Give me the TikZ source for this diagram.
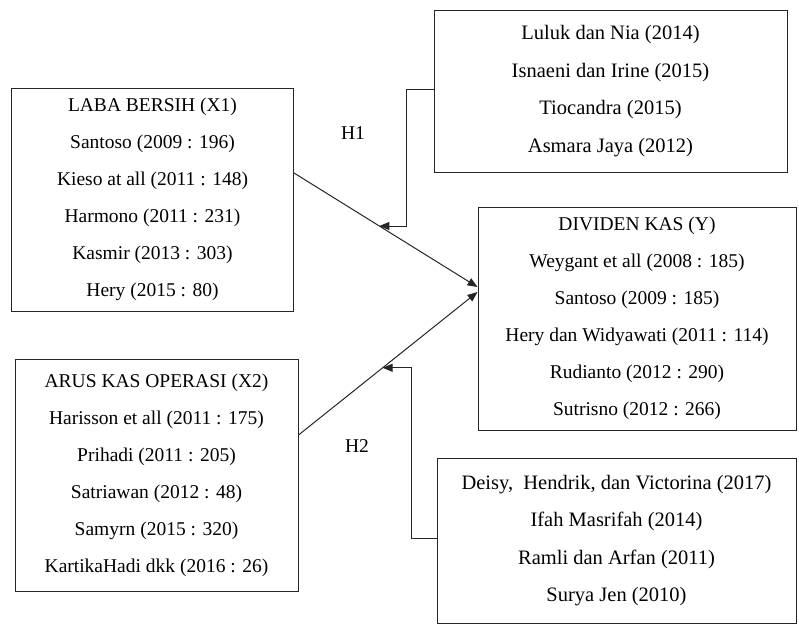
\documentclass[tikz,border=0pt]{standalone}
\usepackage{fontspec}
\setmainfont{Liberation Serif}
\usetikzlibrary{arrows.meta,calc,positioning}

\begin{document}
\begin{tikzpicture}[x=1pt,y=-1pt,>={Triangle[length=10pt,width=8pt]},
    line width=1pt,draw=black!85,
    box/.style={draw=black!85,line width=1pt,align=center,inner sep=0pt,
      font=\fontsize{19.5}{37}\selectfont},
    refbox/.style={box,font=\fontsize{20.5}{37.5}\selectfont}]
    \useasboundingbox (0,0) rectangle (799,630);

    \node[box,minimum width=282,minimum height=223] (LB) at (152.5,199.5)
      {LABA BERSIH (X1)\\Santoso (2009 : 196)\\Kieso at all (2011 : 148)\\
       Harmono (2011 : 231)\\Kasmir (2013 : 303)\\Hery (2015 : 80)};
    \node[box,minimum width=283,minimum height=232] (AKO) at (156.5,475)
      {ARUS KAS OPERASI (X2)\\Harisson et all (2011 : 175)\\Prihadi (2011 : 205)\\
       Satriawan (2012 : 48)\\Samyrn (2015 : 320)\\KartikaHadi dkk (2016 : 26)};
    \node[box,minimum width=318,minimum height=223] (DK) at (637,318.5)
      {DIVIDEN KAS (Y)\\Weygant et all (2008 : 185)\\Santoso (2009 : 185)\\
       Hery dan Widyawati (2011 : 114)\\Rudianto (2012 : 290)\\Sutrisno (2012 : 266)};
    \node[refbox,minimum width=353,minimum height=162] (P1) at (610.5,91)
      {Luluk dan Nia (2014)\\Isnaeni dan Irine (2015)\\Tiocandra (2015)\\Asmara Jaya (2012)};
    \node[refbox,minimum width=359,minimum height=165] (P2) at (616.5,540.5)
      {Deisy,\ \ Hendrik, dan Victorina (2017)\\Ifah Masrifah (2014)\\
       Ramli dan Arfan (2011)\\Surya Jen (2010)};

    \node[font=\fontsize{19.5}{23}\selectfont] (H1) at (353,133) {H1};
    \node[font=\fontsize{19.5}{23}\selectfont] (H2) at (357,446) {H2};

    \coordinate (a1) at ([yshift=26.5pt]LB.east);
    \coordinate (b1) at ([yshift=31.5pt]DK.west);
    \coordinate (a2) at ([yshift=40pt]AKO.east);
    \coordinate (b2) at ([yshift=26.5pt]DK.west);
    \coordinate (h1) at ($(a1)!0.465!(b1)$);
    \coordinate (h2) at ($(a2)!0.47!(b2)$);

    \draw[->] (a1) -- (b1);
    \draw[->] (a2) -- (b2);

    \draw[->] ([yshift=2pt]P1.west) -- ++(-27,0) |- (h1);
    \draw[->] ([yshift=2.5pt]P2.west) -- ++(-25,0) |- (h2);
  \end{tikzpicture}
\end{document}
